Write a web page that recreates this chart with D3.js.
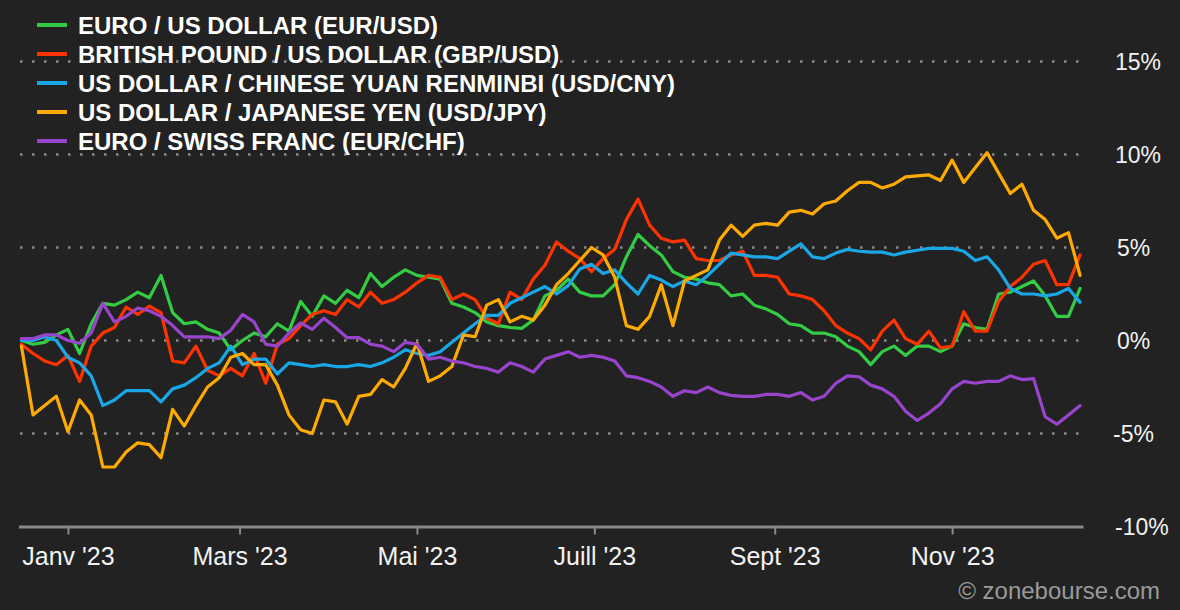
<!DOCTYPE html>
<html>
<head>
<meta charset="utf-8">
<script src="https://cdn.jsdelivr.net/npm/d3@7"></script>
<style>
  html, body { margin: 0; padding: 0; background: #222222; }
  #chart { width: 1180px; height: 610px; }
  text { font-family: "Liberation Sans", Arial, sans-serif; }
</style>
</head>
<body>
<div id="chart"></div>
<script>
////////////////////////////////////////////////////////////////////
////////////////////////////  Data  ////////////////////////////////
// one sample every 4 days, starting 16 Dec 2022 (percent change)
const startDate = new Date(2022, 11, 16);
const stepDays = 4;

const seriesNames = [
  "EURO / US DOLLAR (EUR/USD)",
  "BRITISH POUND / US DOLLAR (GBP/USD)",
  "US DOLLAR / CHINESE YUAN RENMINBI (USD/CNY)",
  "US DOLLAR / JAPANESE YEN (USD/JPY)",
  "EURO / SWISS FRANC (EUR/CHF)",
];
const seriesColors = ["#33cc44", "#ff3300", "#1aa7e6", "#ffaa00", "#9944cc"];

const eurUsd = [
  0.0, -0.2, -0.1, 0.3, 0.6, -0.7, 0.9, 2.0, 1.9, 2.2,
  2.6, 2.3, 3.5, 1.5, 0.9, 1.0, 0.6, 0.4, -0.5, 0.0,
  0.4, 0.2, 0.9, 0.5, 2.1, 1.3, 2.4, 2.0, 2.7, 2.3,
  3.6, 2.9, 3.4, 3.8, 3.5, 3.4, 3.3, 2.0, 1.8, 1.5,
  1.0, 0.8, 0.7, 0.65, 1.1, 2.4, 2.7, 3.3, 2.6, 2.4,
  2.4, 3.0, 4.5, 5.7, 5.1, 4.6, 3.7, 3.4, 3.3, 3.1,
  3.0, 2.4, 2.5, 1.9, 1.7, 1.4, 0.9, 0.8, 0.4, 0.4,
  0.2, -0.3, -0.6, -1.3, -0.6, -0.3, -0.8, -0.3, -0.3, -0.6,
  -0.3, 0.9, 0.7, 0.6, 2.5, 2.6, 2.9, 3.2, 2.4, 1.3,
  1.3, 2.8,
];

const gbpUsd = [
  -0.2, -0.7, -1.1, -1.3, -0.8, -2.2, -0.3, 0.4, 0.7, 1.8,
  1.4, 1.85, 1.5, -1.1, -1.2, -0.3, -1.6, -1.9, -1.5, -1.9,
  -0.7, -2.3, -0.2, 0.1, 0.8, 1.4, 1.6, 1.4, 2.2, 1.8,
  2.6, 2.0, 2.2, 2.6, 3.1, 3.5, 3.4, 2.2, 2.5, 2.2,
  1.2, 0.9, 2.6, 2.2, 3.3, 4.05, 5.3, 4.8, 4.4, 3.7,
  4.4, 4.9, 6.5, 7.6, 6.2, 5.5, 5.3, 5.4, 4.4, 4.3,
  4.3, 4.6, 4.8, 3.5, 3.5, 3.4, 2.5, 2.4, 2.2, 1.6,
  0.8, 0.4, 0.1, -0.5, 0.5, 1.1, 0.1, -0.2, 0.5, -0.4,
  -0.3, 1.55, 0.5, 0.5, 2.1, 2.9, 3.4, 4.1, 4.3, 3.0,
  3.0, 4.6,
];

const usdCny = [
  0.0, 0.0, 0.2, 0.0, -0.9, -1.2, -1.9, -3.5, -3.2, -2.7,
  -2.7, -2.7, -3.3, -2.6, -2.4, -2.0, -1.5, -1.2, -0.3, -1.3,
  -1.0, -1.0, -1.8, -1.2, -1.3, -1.4, -1.3, -1.4, -1.4, -1.3,
  -1.4, -1.2, -0.9, -0.5, -0.7, -0.8, -0.6, -0.1, 0.4, 0.9,
  1.35, 1.35, 2.0, 2.3, 2.6, 2.9, 2.5, 2.95, 3.85, 4.1,
  3.6, 3.8, 3.1, 2.5, 3.5, 3.25, 2.9, 3.2, 3.0, 3.5,
  4.1, 4.7, 4.6, 4.5, 4.5, 4.4, 4.8, 5.2, 4.5, 4.4,
  4.7, 4.9, 4.8, 4.75, 4.75, 4.6, 4.75, 4.85, 4.95, 4.95,
  4.95, 4.8, 4.3, 4.5, 3.8, 2.8, 2.5, 2.5, 2.4, 2.5,
  2.8, 2.05,
];

const usdJpy = [
  -0.3, -4.0, -3.5, -3.0, -4.9, -3.2, -4.0, -6.8, -6.8, -6.0,
  -5.5, -5.6, -6.3, -3.7, -4.6, -3.5, -2.5, -2.0, -0.9, -0.7,
  -1.3, -1.3, -2.4, -4.0, -4.8, -5.0, -3.2, -3.3, -4.5, -3.0,
  -2.9, -2.1, -2.5, -1.5, -0.15, -2.2, -1.9, -1.4, 0.3, 0.2,
  1.9, 2.2, 1.0, 1.3, 1.1, 1.9, 3.0, 3.6, 4.3, 5.0,
  4.6, 3.4, 0.8, 0.6, 1.3, 3.0, 0.8, 3.2, 3.5, 3.8,
  5.4, 6.2, 5.6, 6.2, 6.3, 6.2, 6.9, 7.0, 6.8, 7.35,
  7.5, 8.05, 8.5, 8.5, 8.2, 8.4, 8.8, 8.85, 8.9, 8.6,
  9.7, 8.5, 9.3, 10.1, 9.0, 7.9, 8.4, 7.0, 6.5, 5.5,
  5.8, 3.5,
];

const eurChf = [
  0.1, 0.1, 0.3, 0.3, 0.0, -0.15, 0.4, 2.0, 1.0, 1.3,
  1.75, 1.6, 1.3, 0.8, 0.2, 0.2, 0.2, 0.1, 0.55, 1.4,
  1.0, -0.2, -0.3, 0.4, 0.95, 0.6, 1.2, 0.7, 0.15, 0.15,
  -0.2, -0.3, -0.6, -0.1, -0.2, -1.0, -0.9, -1.1, -1.2, -1.4,
  -1.5, -1.7, -1.2, -1.4, -1.7, -1.0, -0.8, -0.6, -0.9, -0.8,
  -0.9, -1.1, -1.9, -2.0, -2.2, -2.5, -3.0, -2.7, -2.8, -2.5,
  -2.8, -2.95, -3.0, -3.0, -2.9, -2.9, -3.0, -2.8, -3.2, -3.0,
  -2.3, -1.9, -1.95, -2.4, -2.6, -3.0, -3.8, -4.3, -3.9, -3.4,
  -2.6, -2.2, -2.3, -2.2, -2.2, -1.9, -2.1, -2.05, -4.1, -4.5,
  -4.0, -3.5,
];

const seriesValues = [eurUsd, gbpUsd, usdCny, usdJpy, eurChf];

const yTicks = [15, 10, 5, 0, -5, -10];
const xTickDates = [
  new Date(2023, 0, 1),
  new Date(2023, 2, 1),
  new Date(2023, 4, 1),
  new Date(2023, 6, 1),
  new Date(2023, 8, 1),
  new Date(2023, 10, 1),
];
const xTickLabels = ["Janv '23", "Mars '23", "Mai '23", "Juill '23", "Sept '23", "Nov '23"];

////////////////////////////////////////////////////////////////////
////////////////////////////  Init  ///////////////////////////////
const width = 1180;
const height = 610;

const svg = d3
  .select("#chart")
  .append("svg")
  .attr("width", width)
  .attr("height", height);

svg.append("rect").attr("width", width).attr("height", height).attr("fill", "#222222");

const dates = d3.range(eurUsd.length).map((i) => d3.timeDay.offset(startDate, i * stepDays));

// scales
const xScale = d3
  .scaleTime()
  .domain([new Date(2022, 11, 15), new Date(2023, 11, 16)])
  .range([18.5, 1083]);

const yScale = d3.scaleLinear().domain([-10, 15]).range([526.5, 61.5]);

// dotted grid
svg
  .selectAll(".grid")
  .data(yTicks.filter((d) => d > -10))
  .enter()
  .append("line")
  .attr("class", "grid")
  .attr("x1", 20)
  .attr("x2", 1082)
  .attr("y1", (d) => yScale(d))
  .attr("y2", (d) => yScale(d))
  .attr("stroke", "#8a8a8a")
  .attr("stroke-width", 2.5)
  .attr("stroke-dasharray", "2.5,9.5");

// right labels
svg
  .selectAll(".y-label")
  .data(yTicks)
  .enter()
  .append("text")
  .attr("class", "y-label")
  .attr("x", (d) => (d === 5 || d === 0 ? 1117 : d === -5 ? 1113 : 1115))
  .attr("y", (d) => yScale(d))
  .attr("dy", "0.36em")
  .attr("fill", "#f2f2f2")
  .style("font-size", "23px")
  .text((d) => d + "%");

// x axis
const xAxis = d3
  .axisBottom(xScale)
  .tickValues(xTickDates)
  .tickSize(8)
  .tickSizeOuter(0)
  .tickPadding(13)
  .tickFormat((d, i) => xTickLabels[i]);

const gx = svg
  .append("g")
  .attr("class", "x-axis")
  .attr("transform", `translate(0, ${yScale(-10)})`)
  .call(xAxis);

gx.select(".domain").attr("stroke", "#888").attr("stroke-width", 3);
gx.selectAll(".tick line").attr("stroke", "#888").attr("stroke-width", 2);
gx.selectAll(".tick text")
  .attr("fill", "#f2f2f2")
  .style("font-size", "25px")
  .style("font-family", '"Liberation Sans", Arial, sans-serif');

// lines
const line = d3
  .line()
  .x((d, i) => xScale(dates[i]))
  .y((d) => yScale(d));

svg
  .selectAll(".series")
  .data(seriesValues)
  .enter()
  .append("path")
  .attr("class", "series")
  .attr("d", (d) => line(d))
  .attr("fill", "none")
  .attr("stroke", (d, i) => seriesColors[i])
  .attr("stroke-width", 3.2)
  .attr("stroke-linejoin", "round")
  .attr("stroke-linecap", "round");

// legend
const legend = svg
  .selectAll(".legend")
  .data(seriesNames)
  .enter()
  .append("g")
  .attr("class", "legend")
  .attr("transform", (d, i) => `translate(37, ${25 + i * 29})`);

legend
  .append("line")
  .attr("x1", 0)
  .attr("x2", 30)
  .attr("stroke", (d, i) => seriesColors[i])
  .attr("stroke-width", 4);

legend
  .append("text")
  .attr("x", 41)
  .attr("dy", "0.36em")
  .attr("fill", "#ffffff")
  .style("font-size", "24px")
  .style("font-weight", "bold")
  .text((d) => d);

// watermark
svg
  .append("text")
  .attr("x", 1160)
  .attr("y", 599)
  .attr("text-anchor", "end")
  .attr("fill", "#9a9a9a")
  .style("font-size", "24px")
  .text("© zonebourse.com");
</script>
</body>
</html>
